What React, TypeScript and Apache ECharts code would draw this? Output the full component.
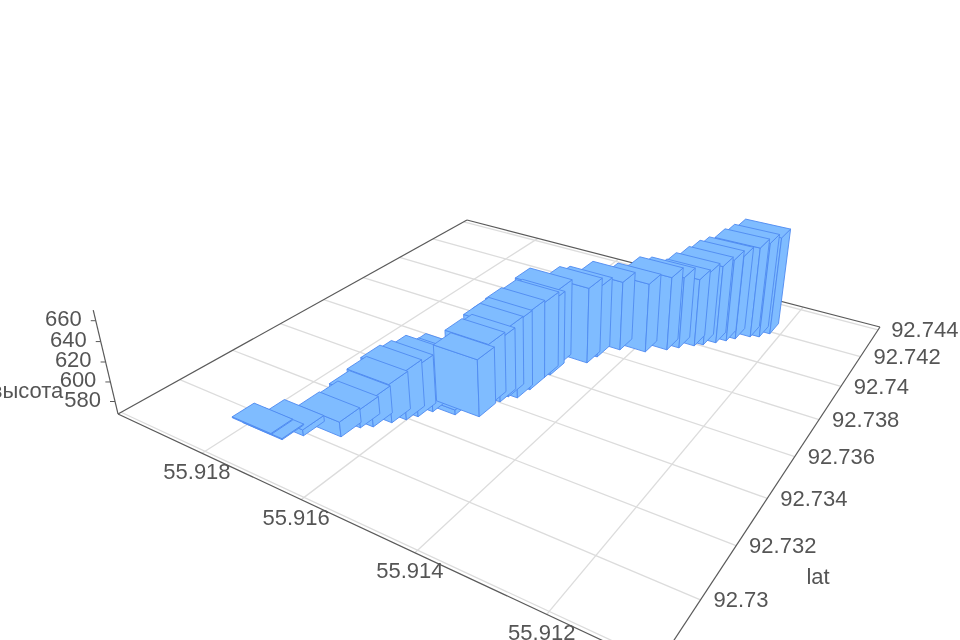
import React, { useEffect, useRef } from "react";
import * as echarts from "echarts";

const lonValues = [55.91791,55.91767,55.91747,55.91697,55.91688,55.91673,55.91656,55.91642,55.91632,55.91621,55.91586,55.91617,55.91616,55.91551,55.91556,55.91547,55.91544,55.9153,55.91526,55.91526,55.91522,55.91527,55.91489,55.91484,55.91462,55.91421,55.91392,55.91377,55.91357,55.91345,55.91329,55.91316,55.91305,55.91285,55.91271,55.91259];
const latValues = [92.72985,92.72984,92.73027,92.73077,92.73136,92.73158,92.732,92.73232,92.73261,92.73302,92.73323,92.73348,92.73379,92.73351,92.73416,92.73443,92.73477,92.73486,92.73541,92.73618,92.73641,92.73696,92.73759,92.73806,92.73881,92.73912,92.73959,92.7399,92.74027,92.74048,92.74081,92.7411,92.74137,92.74175,92.7419,92.74227];
const heightValues = [568,568,573,582,585,595,606,615,617,618,572,609,609,625,629,631,638,645,648,646,644,648,647,642,641,641,646,644,640,646,651,656,658,665,670,673];
const nearestBar = 13;

const lonTicks = [55.912,55.914,55.916,55.918];
const lonLabels = ["55.912","55.914","55.916","55.918"];
const latTicks = [92.728,92.73,92.732,92.734,92.736,92.738,92.74,92.742,92.744];
const latLabels = ["","92.73","92.732","92.734","92.736","92.738","92.74","92.742","92.744"];
const zTicks = [580,600,620,640,660];

const lonRange = [55.91054, 55.91992];
const latRange = [92.7279, 92.74422];
const zRange = [567, 670];
const barLon = 0.00042, barLat = 0.0004;

// Perspective camera fitted to the reference: [x, y] from lon, lat, height
const g=.395,h=.6389,a=-492.4,b=785.2,c=657,d=-88.5,e=-130.1,f=666,K=-.0773,Vx=540,Vy=2185;
function project(lon:number,lat:number,z:number):number[]{
  const u=(lon-lonRange[0])/(lonRange[1]-lonRange[0]),v=(lat-latRange[0])/(latRange[1]-latRange[0]),t=(z-zRange[0])/(zRange[1]-zRange[0]);
  const w=g*u+h*v+1+K*t;
  return [(a*u+b*v+c+Vx*K*t)/w,(d*u+e*v+f+Vy*K*t)/w];
}

const FONT='22px "Liberation Sans", Arial, sans-serif';
const LABEL="#555";
const AXIS="#5a5a5a";
const GRID="#dcdcdc";
const BAR_FILL="#7fbcff";
const BAR_EDGE="#4f8af0";

// Painted from the far end of the road to the near end, the tallest near bar last
const bars = lonValues.map((lon,i)=>[lon,latValues[i],heightValues[i],i])
  .filter(r=>r[3]!==nearestBar).reverse()
  .concat([[lonValues[nearestBar],latValues[nearestBar],heightValues[nearestBar],nearestBar]]);

const lineEl=(p:number[],q:number[],stroke:string,lineWidth:number)=>({type:"line",shape:{x1:p[0],y1:p[1],x2:q[0],y2:q[1]},style:{stroke,lineWidth,fill:null}});
const textEl=(x:number,y:number,text:string,align:string)=>({type:"text",style:{x,y,text,fill:LABEL,font:FONT,align,verticalAlign:"middle"}});

export default function App(){
  const ref=useRef<HTMLDivElement>(null);
  useEffect(()=>{
    const chart=echarts.init(ref.current!,undefined,{renderer:"svg"});
    const [lo0,lo1]=lonRange,[la0,la1]=latRange,[z0,z1]=zRange;
    chart.setOption({
      animation:false,
      backgroundColor:"#fff",
      series:[
        {type:"custom",coordinateSystem:"none",silent:true,z:1,data:lonTicks,
          renderItem:(_:any,api:any)=>{const v=api.value(0);return lineEl(project(v,la0,z0),project(v,la1,z0),GRID,1.3);}},
        {type:"custom",coordinateSystem:"none",silent:true,z:1,data:latTicks,
          renderItem:(_:any,api:any)=>{const v=api.value(0);return lineEl(project(lo0,v,z0),project(lo1,v,z0),GRID,1.3);}},
        {type:"custom",coordinateSystem:"none",silent:true,z:2,data:[0],
          renderItem:()=>({type:"group",children:[
            lineEl(project(lo1,la0,z0),project(lo0,la0,z0),AXIS,1.2),
            lineEl(project(lo0,la0,z0),project(lo0,la1,z0),AXIS,1.2),
            lineEl(project(lo0,la1,z0),project(lo1,la1,z0),AXIS,1.2),
            lineEl(project(lo1,la1,z0),project(lo1,la0,z0),AXIS,1.2),
            lineEl(project(lo1,la0,z0),project(lo1,la0,z1),AXIS,1.2),
          ]})},
        {type:"custom",coordinateSystem:"none",silent:true,z:3,data:bars,
          renderItem:(_:any,api:any)=>{
            const lon=api.value(0),lat=api.value(1),z=api.value(2);
            const l0=lon-barLon,l1=lon+barLon,t0=lat-barLat,t1=lat+barLat;
            const st={fill:BAR_FILL,stroke:BAR_EDGE,lineWidth:.9,lineJoin:"round"};
            const poly=(pts:number[][])=>({type:"polygon",shape:{points:pts},style:st});
            return {type:"group",children:[
              poly([project(l1,t0,z0),project(l0,t0,z0),project(l0,t0,z),project(l1,t0,z)]),
              poly([project(l0,t0,z0),project(l0,t1,z0),project(l0,t1,z),project(l0,t0,z)]),
              poly([project(l1,t0,z),project(l0,t0,z),project(l0,t1,z),project(l1,t1,z)]),
            ]};
          }},
        {type:"custom",coordinateSystem:"none",silent:true,z:4,data:lonTicks,
          renderItem:(p:any,api:any)=>{const q=project(api.value(0),la0,z0);return textEl(q[0]-5,q[1]+18,lonLabels[p.dataIndex],"center");}},
        {type:"custom",coordinateSystem:"none",silent:true,z:4,data:latTicks,
          renderItem:(p:any,api:any)=>{const q=project(lo0,api.value(0),z0);return textEl(q[0]+13,q[1],latLabels[p.dataIndex],"left");}},
        {type:"custom",coordinateSystem:"none",silent:true,z:4,data:zTicks,
          renderItem:(_:any,api:any)=>{const v=api.value(0);const q=project(lo1,la0,v);return {type:"group",children:[
            lineEl(q,[q[0]-5,q[1]],AXIS,1),
            textEl(q[0]-14,q[1]-2,String(v),"right")]};}},
        {type:"custom",coordinateSystem:"none",silent:true,z:5,data:[0],
          renderItem:()=>({type:"group",children:[
            textEl(27,390,"высота","center"),
            textEl(818,576,"lat","center"),
          ]})},
      ],
    });
    return ()=>chart.dispose();
  },[]);
  return <div ref={ref} style={{position:"fixed",left:0,top:0,width:960,height:640,filter:"blur(0.4px)"}}/>;
}
